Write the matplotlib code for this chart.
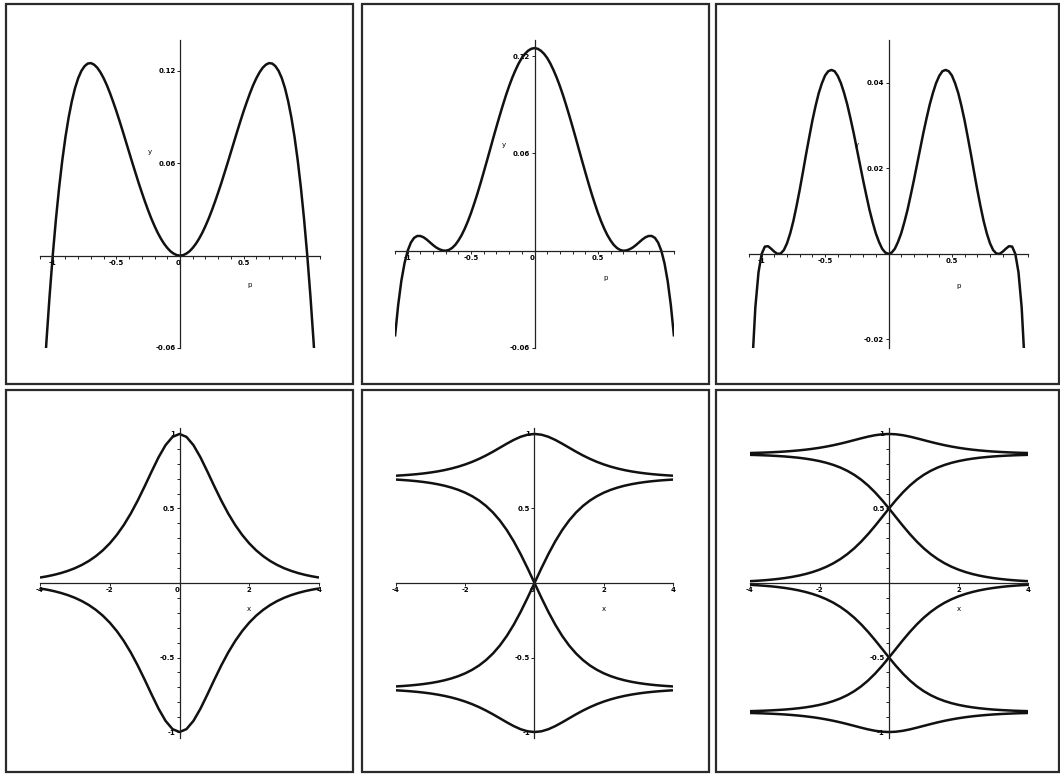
import matplotlib
matplotlib.use('Agg')
import matplotlib.pyplot as plt
import numpy as np
from matplotlib.patches import Rectangle

W, H = 1060, 774

# ---- top row: y(p) ----
p = [-1.1, -1.075, -1.05, -1.025, -1.0, -0.975, -0.95, -0.925, -0.9, -0.875, -0.85, -0.825,
     -0.8, -0.775, -0.75, -0.725, -0.7, -0.675, -0.65, -0.625, -0.6, -0.575, -0.55, -0.525,
     -0.5, -0.475, -0.45, -0.425, -0.4, -0.375, -0.35, -0.325, -0.3, -0.275, -0.25, -0.225,
     -0.2, -0.175, -0.15, -0.125, -0.1, -0.075, -0.05, -0.025, 0.0,
     0.025, 0.05, 0.075, 0.1, 0.125, 0.15, 0.175, 0.2, 0.225, 0.25, 0.275, 0.3,
     0.325, 0.35, 0.375, 0.4, 0.425, 0.45, 0.475, 0.5, 0.525, 0.55, 0.575, 0.6,
     0.625, 0.65, 0.675, 0.7, 0.725, 0.75, 0.775, 0.8, 0.825, 0.85, 0.875, 0.9,
     0.925, 0.95, 0.975, 1.0, 1.025, 1.05, 1.075, 1.1]

y_n1 = [-0.127, -0.0899, -0.0565, -0.0266, 0.0, 0.0235, 0.0440, 0.0618, 0.0770, 0.0897,
        0.1002, 0.1087, 0.1152, 0.1199, 0.1230, 0.1247, 0.1250, 0.1240, 0.1220, 0.1190,
        0.1152, 0.1107, 0.1055, 0.0998, 0.0938, 0.0874, 0.0808, 0.0740, 0.0672, 0.0604,
        0.0538, 0.0472, 0.0410, 0.0350, 0.0293, 0.0240, 0.0192, 0.0148, 0.0110, 0.0077,
        0.0050, 0.0028, 0.0013, 0.0003, 0.0,
        0.0003, 0.0013, 0.0028, 0.0050, 0.0077, 0.0110, 0.0148, 0.0192, 0.0240, 0.0293,
        0.0350, 0.0410, 0.0472, 0.0538, 0.0604, 0.0672, 0.0740, 0.0808, 0.0874, 0.0938,
        0.0998, 0.1055, 0.1107, 0.1152, 0.1190, 0.1220, 0.1240, 0.1250, 0.1247, 0.1230,
        0.1199, 0.1152, 0.1087, 0.1002, 0.0897, 0.0770, 0.0618, 0.0440, 0.0235, 0.0,
        -0.0266, -0.0565, -0.0899, -0.127]

y_n2 = [-0.0529, -0.0335, -0.0186, -0.0077, 0.0, 0.0050, 0.0079, 0.0091, 0.0091, 0.0083,
        0.0069, 0.0052, 0.0035, 0.0020, 0.0009, 0.0002, 0.0000, 0.0005, 0.0017, 0.0036,
        0.0063, 0.0096, 0.0136, 0.0182, 0.0234, 0.0292, 0.0353, 0.0418, 0.0486, 0.0555,
        0.0625, 0.0696, 0.0765, 0.0832, 0.0897, 0.0959, 0.1016, 0.1068, 0.1114, 0.1155,
        0.1189, 0.1215, 0.1234, 0.1246, 0.125,
        0.1246, 0.1234, 0.1215, 0.1189, 0.1155, 0.1114, 0.1068, 0.1016, 0.0959, 0.0897,
        0.0832, 0.0765, 0.0696, 0.0625, 0.0555, 0.0486, 0.0418, 0.0353, 0.0292, 0.0234,
        0.0182, 0.0136, 0.0096, 0.0063, 0.0036, 0.0017, 0.0005, 0.0000, 0.0002, 0.0009,
        0.0020, 0.0035, 0.0052, 0.0069, 0.0083, 0.0091, 0.0091, 0.0079, 0.0050, 0.0,
        -0.0077, -0.0186, -0.0335, -0.0529]

y_n3 = [-0.0478, -0.0263, -0.0125, -0.0043, 0.0, 0.0017, 0.0018, 0.0012, 0.0005, 0.0000,
        0.0001, 0.0009, 0.0025, 0.0048, 0.0077, 0.0112, 0.0150, 0.0191, 0.0233, 0.0273,
        0.0312, 0.0346, 0.0376, 0.0399, 0.0417, 0.0427, 0.0430, 0.0427, 0.0416, 0.0399,
        0.0376, 0.0349, 0.0317, 0.0283, 0.0246, 0.0209, 0.0172, 0.0137, 0.0103, 0.0074,
        0.0048, 0.0028, 0.0012, 0.0003, 0.0,
        0.0003, 0.0012, 0.0028, 0.0048, 0.0074, 0.0103, 0.0137, 0.0172, 0.0209, 0.0246,
        0.0283, 0.0317, 0.0349, 0.0376, 0.0399, 0.0416, 0.0427, 0.0430, 0.0427, 0.0417,
        0.0399, 0.0376, 0.0346, 0.0312, 0.0273, 0.0233, 0.0191, 0.0150, 0.0112, 0.0077,
        0.0048, 0.0025, 0.0009, 0.0001, 0.0000, 0.0005, 0.0012, 0.0018, 0.0017, 0.0,
        -0.0043, -0.0125, -0.0263, -0.0478]

# ---- bottom row: branches over x ----
x = [-4.0, -3.8, -3.6, -3.4, -3.2, -3.0, -2.8, -2.6, -2.4, -2.2, -2.0, -1.8, -1.6,
     -1.4, -1.2, -1.0, -0.8, -0.6, -0.4, -0.2, 0.0, 0.2, 0.4, 0.6, 0.8, 1.0, 1.2,
     1.4, 1.6, 1.8, 2.0, 2.2, 2.4, 2.6, 2.8, 3.0, 3.2, 3.4, 3.6, 3.8, 4.0]

b1 = [0.0366, 0.0447, 0.0546, 0.0667, 0.0814, 0.0993, 0.1212, 0.1477, 0.1800, 0.2189,
      0.2658, 0.3218, 0.3880, 0.4649, 0.5523, 0.6481, 0.7477, 0.8436, 0.9250, 0.9803,
      1.0, 0.9803, 0.9250, 0.8436, 0.7477, 0.6481, 0.5523, 0.4649, 0.3880, 0.3218,
      0.2658, 0.2189, 0.1800, 0.1477, 0.1212, 0.0993, 0.0814, 0.0667, 0.0546, 0.0447,
      0.0366]

b2_outer = [0.7199, 0.7228, 0.7262, 0.7303, 0.7353, 0.7414, 0.7487, 0.7575, 0.7681, 0.7807,
            0.7956, 0.8130, 0.8331, 0.8558, 0.8810, 0.9078, 0.9348, 0.9601, 0.9811, 0.9951,
            1.0, 0.9951, 0.9811, 0.9601, 0.9348, 0.9078, 0.8810, 0.8558, 0.8331, 0.8130,
            0.7956, 0.7807, 0.7681, 0.7575, 0.7487, 0.7414, 0.7353, 0.7303, 0.7262, 0.7228,
            0.7199]
b2_inner = [-0.6940, -0.6911, -0.6875, -0.6831, -0.6777, -0.6711, -0.6629, -0.6528, -0.6403,
            -0.6249, -0.6059, -0.5823, -0.5532, -0.5172, -0.4731, -0.4195, -0.3552, -0.2797,
            -0.1936, -0.0992, 0.0, 0.0992, 0.1936, 0.2797, 0.3552, 0.4195, 0.4731, 0.5172,
            0.5532, 0.5823, 0.6059, 0.6249, 0.6403, 0.6528, 0.6629, 0.6711, 0.6777, 0.6831,
            0.6875, 0.6911, 0.6940]

b3_top = [0.8721, 0.8734, 0.8750, 0.8769, 0.8793, 0.8821, 0.8856, 0.8897, 0.8946, 0.9004,
          0.9073, 0.9154, 0.9246, 0.9350, 0.9465, 0.9586, 0.9708, 0.9822, 0.9916, 0.9978,
          1.0, 0.9978, 0.9916, 0.9822, 0.9708, 0.9586, 0.9465, 0.9350, 0.9246, 0.9154,
          0.9073, 0.9004, 0.8946, 0.8897, 0.8856, 0.8821, 0.8793, 0.8769, 0.8750, 0.8734,
          0.8721]
b3_cross = [0.8599, 0.8585, 0.8568, 0.8547, 0.8521, 0.8490, 0.8451, 0.8403, 0.8343, 0.8269,
            0.8178, 0.8064, 0.7922, 0.7746, 0.7527, 0.7258, 0.6930, 0.6538, 0.6080, 0.5562,
            0.5, 0.4416, 0.3836, 0.3284, 0.2778, 0.2328, 0.1938, 0.1605, 0.1324, 0.1090,
            0.0896, 0.0735, 0.0603, 0.0494, 0.0405, 0.0332, 0.0272, 0.0222, 0.0182, 0.0149,
            0.0122]

CURVE = dict(color='#111111', lw=1.8, solid_capstyle='butt', solid_joinstyle='round')
TICKFONT = dict(fontsize=5, fontweight='bold', family=['Liberation Sans Narrow', 'DejaVu Sans'])


def box(fig, x0, y0, x1, y1):
    fig.add_artist(Rectangle((x0 / W, 1 - y1 / H), (x1 - x0) / W, (y1 - y0) / H,
                             transform=fig.transFigure, fill=False, lw=1.6, ec='#2a2a2a'))


def make_axes(fig, l, t, r, b, xlim, ylim):
    ax = fig.add_axes([l / W, 1 - b / H, (r - l) / W, (b - t) / H])
    ax.patch.set_visible(False)
    ax.set_xlim(*xlim)
    ax.set_ylim(*ylim)
    for s in ('top', 'right'):
        ax.spines[s].set_visible(False)
    for s in ('left', 'bottom'):
        ax.spines[s].set_position(('data', 0))
        ax.spines[s].set_linewidth(0.9)
        ax.spines[s].set_color('#222222')
    ax.tick_params(which='both', direction='out', width=0.7, color='#222222', pad=1,
                   length=2.2)
    return ax


def set_labels(ax, xt, xl, yt, yl):
    ax.set_xticks(xt, xl, **TICKFONT)
    ax.set_yticks(yt, yl, **TICKFONT)
    for lab in ax.get_xticklabels():
        if lab.get_text() == '0':
            lab.set_ha('right')


fig = plt.figure(figsize=(W / 100, H / 100), dpi=100)
fig.patch.set_facecolor('white')

for x0, x1 in [(6, 353), (362, 709), (716, 1059)]:
    box(fig, x0, 4, x1, 384)
    box(fig, x0, 390, x1, 772)

top_minor = np.round(np.arange(-1.1, 1.101, 0.1), 1)

# top row
top_panels = [
    (40, 320, y_n1, (-0.06, 0.14), [-0.06, 0.06, 0.12], ['-0.06', '0.06', '0.12'],
     ['-1', '-0.5', '0', '0.5'], (-0.24, 0.0675), (0.55, -0.019)),
    (395, 674, y_n2, (-0.06, 0.13), [-0.06, 0.06, 0.12], ['-0.06', '0.06', '0.12'],
     ['-1', '-0.5', '0', '0.5'], (-0.24, 0.065), (0.56, -0.017)),
    (749, 1028, y_n3, (-0.022, 0.05), [-0.02, 0.02, 0.04], ['-0.02', '0.02', '0.04'],
     ['-1', '-0.5', '', '0.5'], (-0.25, 0.0254), (0.55, -0.0075)),
]
for l, r, yv, ylim, yt, yl, xl, ylab, xlab in top_panels:
    ax = make_axes(fig, l, 40, r, 348, (-1.1, 1.1), ylim)
    ax.plot(p, yv, **CURVE)
    set_labels(ax, [-1, -0.5, 0, 0.5], xl, yt, yl)
    ax.set_xticks(top_minor, minor=True)
    ax.text(*ylab, 'y', fontsize=5, ha='center', va='center')
    ax.text(*xlab, 'p', fontsize=5, ha='center', va='center')

# bottom row
bot_minor = np.round(np.arange(-1.0, 1.01, 0.1), 1)
bottom_panels = [
    (40, 319, ['-4', '-2', '0', '2', '4'], True),
    (396, 673, ['-4', '-2', '0', '2', '4'], False),
    (750, 1028, ['-4', '-2', '', '2', '4'], True),
]
axes_bot = []
for l, r, xl, minor in bottom_panels:
    ax = make_axes(fig, l, 428, r, 738, (-4, 4), (-1.04, 1.04))
    set_labels(ax, [-4, -2, 0, 2, 4], xl, [-1, -0.5, 0.5, 1], ['-1', '-0.5', '0.5', '1'])
    if minor:
        ax.set_yticks(bot_minor, minor=True)
    ax.text(2, -0.175, 'x', fontsize=5, ha='center', va='center')
    axes_bot.append(ax)

a4, a5, a6 = axes_bot
a4.plot(x, b1, **CURVE)
a4.plot(x, np.negative(b1), **CURVE)

a5.plot(x, b2_outer, **CURVE)
a5.plot(x, np.negative(b2_outer), **CURVE)
a5.plot(x, b2_inner, **CURVE)
a5.plot(x, np.negative(b2_inner), **CURVE)

a6.plot(x, b3_top, **CURVE)
a6.plot(x, np.negative(b3_top), **CURVE)
a6.plot(x, b3_cross, **CURVE)
a6.plot(x, b3_cross[::-1], **CURVE)
a6.plot(x, np.negative(b3_cross), **CURVE)
a6.plot(x, np.negative(b3_cross[::-1]), **CURVE)

fig.savefig('out.png', dpi=100)
